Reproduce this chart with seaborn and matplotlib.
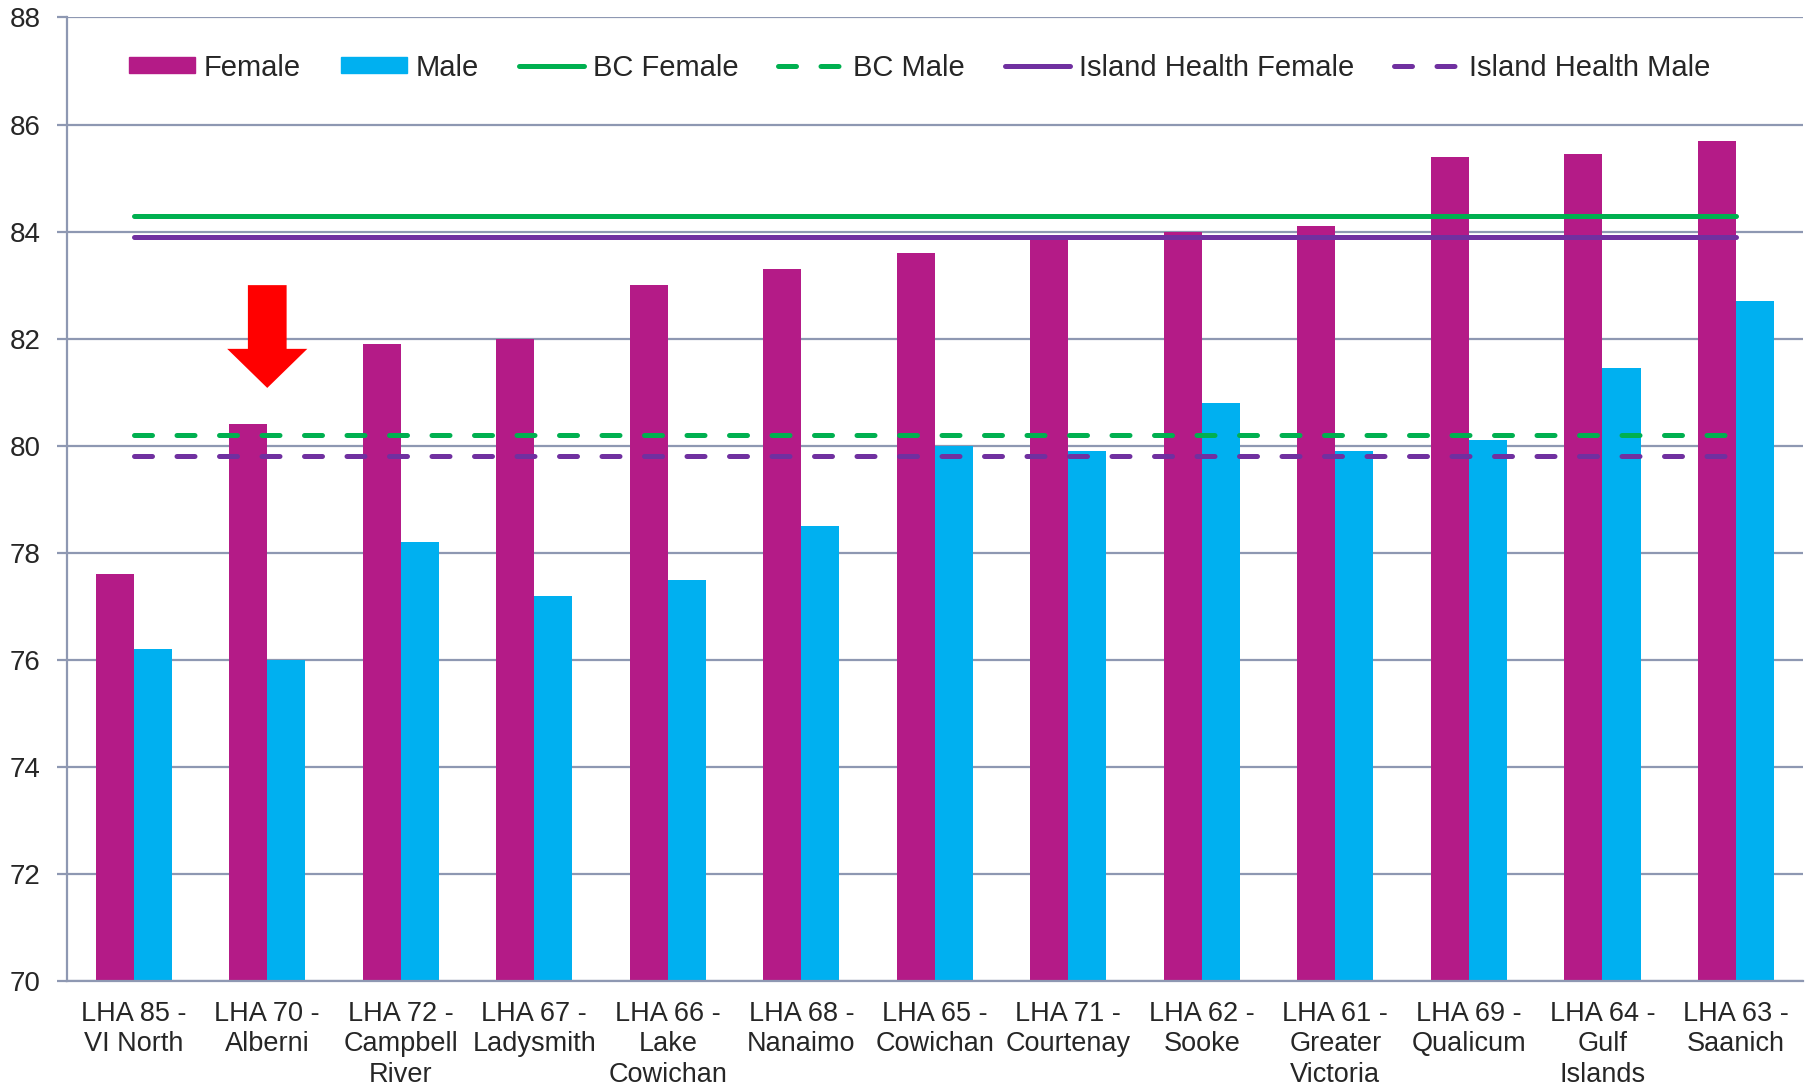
import numpy as np
import pandas as pd
import matplotlib
matplotlib.use("Agg")
import matplotlib.pyplot as plt
from matplotlib.patches import Patch, FancyArrow
from matplotlib.lines import Line2D
import seaborn as sns

# Datos
areas = ["LHA 85 -\nVI North", "LHA 70 -\nAlberni", "LHA 72 -\nCampbell\nRiver",
         "LHA 67 -\nLadysmith", "LHA 66 -\nLake\nCowichan", "LHA 68 -\nNanaimo",
         "LHA 65 -\nCowichan", "LHA 71 -\nCourtenay", "LHA 62 -\nSooke",
         "LHA 61 -\nGreater\nVictoria", "LHA 69 -\nQualicum", "LHA 64 -\nGulf\nIslands",
         "LHA 63 -\nSaanich"]
female = [77.6, 80.4, 81.9, 82.0, 83.0, 83.3, 83.6, 83.9, 84.0, 84.1, 85.4, 85.45, 85.7]
male = [76.2, 76.0, 78.2, 77.2, 77.5, 78.5, 80.0, 79.9, 80.8, 79.9, 80.1, 81.45, 82.7]

bc_female = 84.3
bc_male = 80.2
ih_female = 83.9
ih_male = 79.8

y_ticks = [70, 72, 74, 76, 78, 80, 82, 84, 86, 88]

c_female = "#B41B87"
c_male = "#00B0F0"
c_green = "#00B050"
c_purple = "#7030A0"
c_grid = "#8E98B2"

sns.set_style("white")
plt.rcParams["font.family"] = ["Liberation Sans", "DejaVu Sans"]

df = pd.DataFrame({
    "area": areas * 2,
    "value": female + male,
    "sex": ["Female"] * len(areas) + ["Male"] * len(areas),
})

fig = plt.figure(figsize=(18.1, 10.89), dpi=100)
ax = fig.add_axes([0.037, 0.099, 0.959, 0.885])

sns.barplot(data=df, x="area", y="value", hue="sex", palette=[c_female, c_male],
            width=0.57, saturation=1, linewidth=0, legend=False, ax=ax)

# Lineas de referencia (BC e Island Health)
dash = (3.6, 4.9)
lw_ref = 3.6
pos = np.arange(len(areas))
refs = [(bc_female, c_green, False), (ih_female, c_purple, False),
        (bc_male, c_green, True), (ih_male, c_purple, True)]
for val, col, dashed in refs:
    sns.lineplot(x=pos, y=[val] * len(areas), color=col, lw=lw_ref, ax=ax)
    ln = ax.lines[-1]
    ln.set_solid_capstyle("round")
    if dashed:
        ln.set_dashes(dash)
        ln.set_dash_capstyle("round")

# Flecha roja sobre Alberni
ax.add_patch(FancyArrow(1, 83.0, 0, -1.92, width=0.29, head_width=0.6,
                        head_length=0.73, length_includes_head=True,
                        color="#FF0000", lw=0, zorder=5))

ax.set_xlim(-0.5, len(areas) - 0.5)
ax.set_ylim(70, 88)
ax.set_yticks(y_ticks)
ax.set_xlabel("")
ax.set_ylabel("")
ax.set_axisbelow(True)
ax.yaxis.grid(True, color=c_grid, lw=1.6)
ax.xaxis.grid(False)

for s in ["top", "right"]:
    ax.spines[s].set_visible(False)
for s in ["left", "bottom"]:
    ax.spines[s].set_color(c_grid)
    ax.spines[s].set_linewidth(1.6)

ax.set_xticks(np.arange(-0.5, len(areas)), minor=True)
ax.tick_params(axis="x", which="major", length=0, pad=14, labelsize=19.5)
ax.tick_params(axis="x", which="minor", length=7, width=1.6, color=c_grid, direction="out")
ax.tick_params(axis="y", length=7, width=1.6, color=c_grid, pad=12, labelsize=20,
               left=True, direction="out")
for t in ax.get_xticklabels():
    t.set_linespacing(1.24)

handles = [
    Patch(color=c_female, label="Female"),
    Patch(color=c_male, label="Male"),
    Line2D([], [], color=c_green, lw=lw_ref, solid_capstyle="round", label="BC Female"),
    Line2D([], [], color=c_green, lw=lw_ref, dashes=dash, dash_capstyle="round", label="BC Male"),
    Line2D([], [], color=c_purple, lw=lw_ref, solid_capstyle="round", label="Island Health Female"),
    Line2D([], [], color=c_purple, lw=lw_ref, dashes=dash, dash_capstyle="round",
           label="Island Health Male"),
]
ax.legend(handles=handles, loc="center left", bbox_to_anchor=(0.036, 0.948), ncol=6,
          frameon=False, fontsize=21, handlelength=2.25, handleheight=0.5,
          handletextpad=0.3, columnspacing=1.37, borderpad=0, borderaxespad=0)

fig.savefig("out.png", dpi=100)
